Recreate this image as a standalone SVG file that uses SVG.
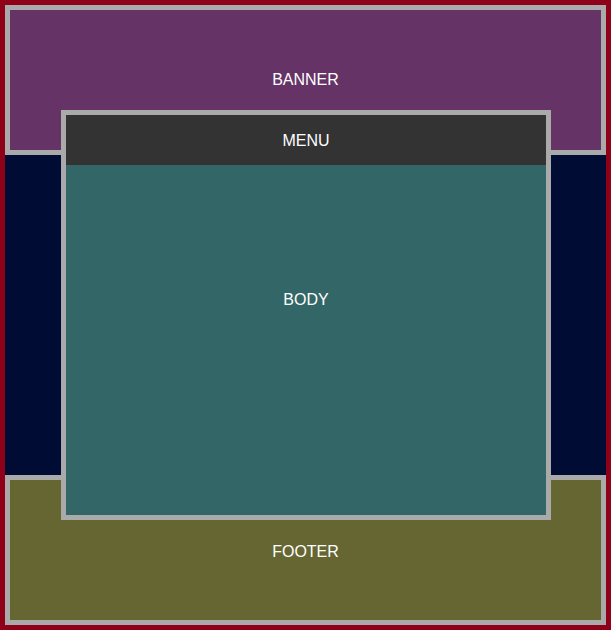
<svg xmlns="http://www.w3.org/2000/svg" width="611" height="630" viewBox="0 0 611 630">
<style>
.b{stroke:#aaaaaa;stroke-width:5}
.t{font-family:"Liberation Sans",Arial,sans-serif;font-size:16px;fill:#ffffff;text-anchor:middle}
</style>
<rect x="0" y="0" width="611" height="630" fill="#8f0019"/>
<rect x="5" y="155" width="601" height="320" fill="#000c33"/>
<g id="banner">
<rect class="b" x="7.5" y="7.5" width="596" height="145" fill="#663366"/>
<text class="t" x="305.5" y="85">BANNER</text>
</g>
<g id="footer">
<rect class="b" x="7.5" y="477.5" width="596" height="145" fill="#666633"/>
<text class="t" x="305.5" y="557">FOOTER</text>
</g>
<g id="container">
<rect class="b" x="63.5" y="112.5" width="485" height="405" fill="#336666"/>
</g>
<g id="menu">
<rect x="66" y="115" width="480" height="50" fill="#333333"/>
<text class="t" x="306" y="146">MENU</text>
</g>
<g id="body">
<text class="t" x="306" y="305">BODY</text>
</g>
<g id="connectors"/>
</svg>
